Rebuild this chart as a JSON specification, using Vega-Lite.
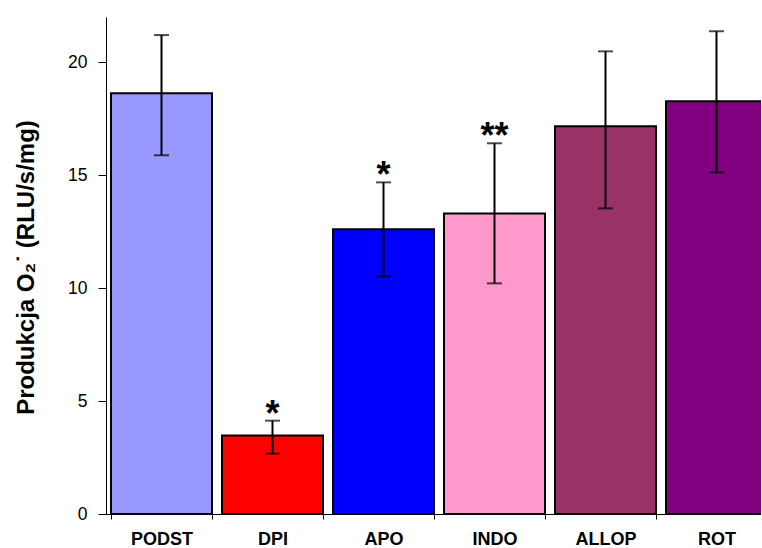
{
  "$schema": "https://vega.github.io/schema/vega-lite/v6.json",
  "autosize": "none",
  "width": 655,
  "height": 497,
  "padding": {"left": 106, "top": 17, "right": 0, "bottom": 34},
  "background": "white",
  "config": {
    "view": {"stroke": null},
    "font": "Liberation Sans"
  },
  "data": {
    "values": [
      {"grupa": "PODST", "srednia": 18.62, "dol": 15.88, "gora": 21.2, "istotnosc": "", "kolor": "#9999FF"},
      {"grupa": "DPI", "srednia": 3.47, "dol": 2.67, "gora": 4.13, "istotnosc": "*", "kolor": "#FF0000"},
      {"grupa": "APO", "srednia": 12.6, "dol": 10.51, "gora": 14.68, "istotnosc": "*", "kolor": "#0000FF"},
      {"grupa": "INDO", "srednia": 13.3, "dol": 10.21, "gora": 16.41, "istotnosc": "**", "kolor": "#FF99CC"},
      {"grupa": "ALLOP", "srednia": 17.16, "dol": 13.53, "gora": 20.48, "istotnosc": "", "kolor": "#993366"},
      {"grupa": "ROT", "srednia": 18.27, "dol": 15.12, "gora": 21.37, "istotnosc": "", "kolor": "#800080"}
    ]
  },
  "encoding": {
    "x": {
      "field": "grupa",
      "type": "nominal",
      "sort": null,
      "scale": {"range": [0, 666], "paddingInner": 0.09, "paddingOuter": 0.045},
      "axis": {
        "title": null,
        "labelAngle": 0,
        "labelFont": "Liberation Sans",
        "labelFontWeight": "bold",
        "labelFontSize": 18,
        "labelColor": "black",
        "labelPadding": 11,
        "tickBand": "extent",
        "tickSize": 5,
        "tickColor": "black",
        "domainColor": "black",
        "domainWidth": 1,
        "tickWidth": 1,
        "grid": false
      }
    }
  },
  "layer": [
    {
      "mark": {"type": "bar", "stroke": "black", "strokeWidth": 2},
      "encoding": {
        "y": {
          "field": "srednia",
          "type": "quantitative",
          "scale": {"domain": [0, 22], "nice": false},
          "axis": {
            "title": "Produkcja O₂˙ (RLU/s/mg)",
            "titleFont": "Liberation Sans",
            "titleFontWeight": "bold",
            "titleFontSize": 24,
            "titleColor": "black",
            "titleAngle": -90,
            "titleX": -80,
            "titleY": 250,
            "titleAlign": "center",
            "titleBaseline": "middle",
            "values": [0, 5, 10, 15, 20],
            "labelFont": "Liberation Sans",
            "labelFontSize": 17.5,
            "labelColor": "black",
            "labelPadding": 11,
            "tickSize": 8,
            "tickColor": "black",
            "domainColor": "black",
            "grid": false
          }
        },
        "fill": {"field": "kolor", "type": "nominal", "scale": null}
      }
    },
    {
      "mark": {"type": "rule", "color": "black", "strokeWidth": 2},
      "encoding": {
        "y": {"field": "dol", "type": "quantitative"},
        "y2": {"field": "gora"}
      }
    },
    {
      "mark": {"type": "tick", "color": "black", "thickness": 2, "size": 15, "orient": "horizontal"},
      "encoding": {"y": {"field": "dol", "type": "quantitative"}}
    },
    {
      "mark": {"type": "tick", "color": "black", "thickness": 2, "size": 15, "orient": "horizontal"},
      "encoding": {"y": {"field": "gora", "type": "quantitative"}}
    },
    {
      "mark": {"type": "text", "font": "Liberation Sans", "fontWeight": "bold", "fontSize": 36, "baseline": "alphabetic", "align": "center", "dy": 5, "color": "black"},
      "encoding": {
        "y": {"field": "gora", "type": "quantitative"},
        "text": {"field": "istotnosc"}
      }
    }
  ]
}
